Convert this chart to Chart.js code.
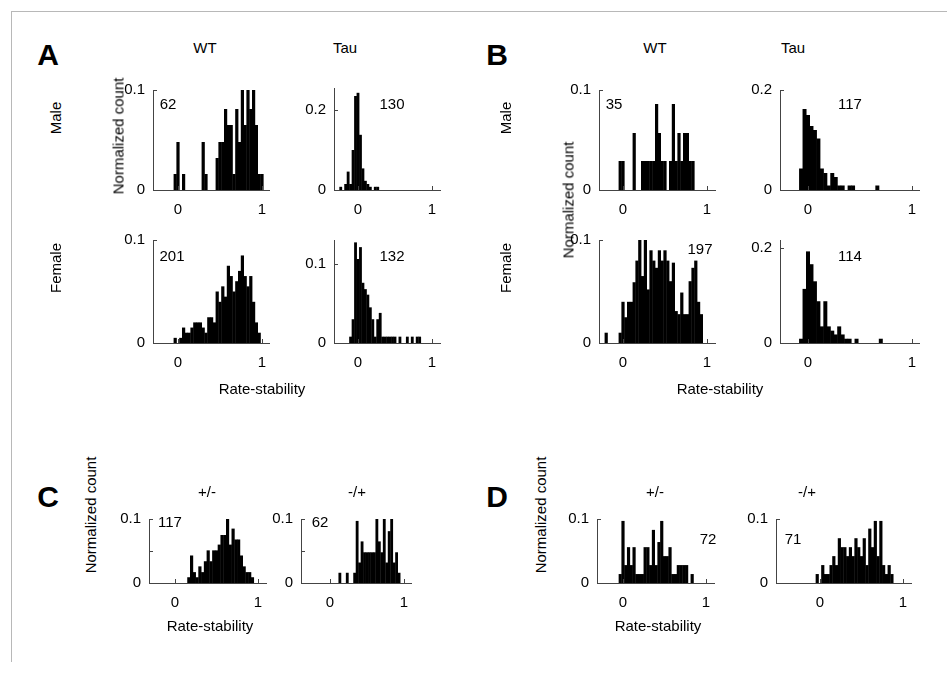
<!DOCTYPE html>
<html>
<head>
<meta charset="utf-8">
<script src="https://cdn.jsdelivr.net/npm/chart.js@4.4.1/dist/chart.umd.min.js"></script>
<style>
body { margin: 0; background: #fff; font-family: "Liberation Sans", Arial, sans-serif; }
#fig { position: relative; width: 947px; height: 673px; overflow: hidden; }
#frame { position: absolute; left: 11px; top: 11px; width: 960px; height: 650px;
         border-left: 1px solid #b8b8b8; border-top: 1px solid #b8b8b8; }
.t { position: absolute; font-size: 15px; color: #000; white-space: nowrap; transform: translate(-50%, -50%); }
.letter { font-size: 30px; font-weight: bold; }
.rot { transform: translate(-50%, -50%) rotate(-90deg); }
canvas { position: absolute; }
</style>
</head>
<body>
<div id="fig"><div id="frame"></div></div>
<script>
// bins of width 1/30 on the rate-stability axis, index k -> value k/30
const binIndex = [-8, -7, -6, -5, -4, -3, -2, -1, 0, 1, 2, 3, 4, 5, 6, 7, 8, 9, 10, 11, 12,
  13, 14, 15, 16, 17, 18, 19, 20, 21, 22, 23, 24, 25, 26, 27, 28, 29, 30, 31, 32];
const xTickBins = [0, 30];
const xTickLabels = ['0', '1'];

// normalized counts, one value per bin (k = -8 .. 32)
const aWtMale = [0, 0, 0, 0, 0, 0, 0, 0.016, 0.048, 0, 0.016, 0, 0, 0, 0, 0, 0, 0.048, 0.016, 0, 0, 0,
  0.032, 0.048, 0.048, 0.081, 0.065, 0.065, 0.016, 0.081, 0.048, 0.113, 0.065, 0.113, 0.081, 0.113, 0.065, 0.016, 0.016, 0, 0];
const aTauMale = [0, 0.008, 0, 0.015, 0.046, 0.015, 0.1, 0.235, 0.243, 0.138, 0.054, 0.023, 0.015, 0.008, 0, 0.008, 0.008,
  0, 0, 0, 0, 0, 0, 0, 0, 0, 0, 0, 0, 0, 0, 0, 0, 0, 0, 0, 0, 0, 0, 0, 0];
const aWtFemale = [0, 0, 0, 0, 0, 0, 0, 0.005, 0, 0.005, 0.015, 0.01, 0.01, 0.015, 0.02, 0.02, 0.02, 0.015, 0.01, 0.025, 0.025,
  0.02, 0.05, 0.04, 0.055, 0.045, 0.075, 0.065, 0.05, 0.06, 0.07, 0.085, 0.065, 0.055, 0.065, 0.04, 0.02, 0.01, 0, 0, 0];
const aTauFemale = [0, 0, 0, 0, 0, 0.008, 0.03, 0.127, 0.106, 0.121, 0.076, 0.068, 0.061, 0.045, 0.03, 0.008, 0.03, 0.038, 0.008, 0.008, 0.008,
  0.008, 0.008, 0.008, 0, 0.008, 0, 0, 0.008, 0, 0.008, 0, 0.008, 0.008, 0, 0, 0, 0, 0, 0, 0];
const bWtMale = [0, 0, 0, 0, 0, 0, 0, 0.029, 0.029, 0, 0, 0, 0.057, 0, 0, 0.029, 0.029, 0.029, 0.029, 0.029, 0.086,
  0.057, 0.029, 0.029, 0, 0.029, 0.086, 0.029, 0.057, 0.029, 0.057, 0.057, 0.029, 0.029, 0, 0, 0, 0, 0, 0, 0];
const bTauMale = [0, 0, 0, 0, 0, 0, 0.043, 0.162, 0.15, 0.128, 0.12, 0.103, 0.043, 0.034, 0.009, 0.034, 0.026, 0.009, 0.009, 0, 0.009,
  0.009, 0, 0, 0, 0, 0, 0, 0.009, 0, 0, 0, 0, 0, 0, 0, 0, 0, 0, 0, 0];
const bWtFemale = [0, 0, 0.01, 0, 0, 0, 0, 0.01, 0.04, 0.025, 0.04, 0.04, 0.059, 0.08, 0.1, 0.065, 0.1, 0.052, 0.09, 0.08, 0.073,
  0.09, 0.08, 0.09, 0.08, 0.06, 0.078, 0.031, 0.028, 0.049, 0.028, 0.028, 0.06, 0.073, 0.08, 0.04, 0.028, 0, 0, 0, 0];
const bTauFemale = [0, 0, 0, 0, 0, 0, 0.009, 0.114, 0.193, 0.166, 0.13, 0.088, 0.035, 0.088, 0.035, 0.026, 0.018, 0.035, 0.018, 0.009, 0.009,
  0, 0.009, 0, 0, 0, 0, 0, 0, 0.009, 0, 0, 0, 0, 0, 0, 0, 0, 0, 0, 0];
const cPlusMinus = [0, 0, 0, 0, 0, 0, 0, 0, 0, 0, 0, 0, 0, 0.009, 0.043, 0.017, 0.009, 0.026, 0.017, 0.034, 0.051,
  0.034, 0.051, 0.051, 0.06, 0.075, 0.075, 0.1, 0.06, 0.085, 0.068, 0.068, 0.043, 0.026, 0.017, 0.017, 0.009, 0, 0, 0, 0];
const cMinusPlus = [0, 0, 0, 0, 0, 0, 0, 0, 0, 0, 0, 0, 0.016, 0, 0, 0.016, 0, 0, 0.016, 0.097, 0.032,
  0.065, 0.048, 0.048, 0.048, 0.048, 0.048, 0.1, 0.065, 0.048, 0.1, 0.032, 0.081, 0.1, 0.032, 0.048, 0.016, 0, 0, 0, 0];
const dPlusMinus = [0, 0, 0, 0, 0, 0, 0, 0.014, 0.097, 0.028, 0.056, 0.028, 0.056, 0.014, 0.014, 0.014, 0.056, 0.056, 0.028, 0.083, 0.028,
  0.064, 0.097, 0.042, 0.042, 0.056, 0.014, 0.014, 0.028, 0.028, 0.028, 0.028, 0, 0.014, 0, 0, 0, 0, 0, 0, 0];
const dMinusPlus = [0, 0, 0, 0, 0, 0, 0, 0.014, 0, 0.028, 0.014, 0.014, 0.028, 0.042, 0.028, 0.07, 0.056, 0.056, 0.042, 0.056, 0.042,
  0.07, 0.056, 0.042, 0.07, 0.028, 0.085, 0.056, 0.097, 0.042, 0.097, 0.028, 0.014, 0.028, 0.014, 0, 0, 0, 0, 0, 0];

// y tick values and their labels
const yTicks01 = [0, 0.1];
const yTicks01Labels = ['0', '0.1'];
const yTicks02 = [0, 0.2];
const yTicks02Labels = ['0', '0.2'];
const yTicksHalf = [0, 0.05, 0.1];
const yTicksHalfLabels = ['0', '', '0.1'];

const FONT = { family: '"Liberation Sans", Arial, sans-serif', size: 15 };
const PAD_L = 46, PAD_R = 12, PAD_T = 12, PAD_B = 34;
const fig = document.getElementById('fig');

// matlab-like axes: left + bottom lines, ticks pointing inwards
const axesPlugin = {
  id: 'matlabAxes',
  afterDatasetsDraw(chart) {
    const { ctx, chartArea: a, scales: { x, y } } = chart;
    ctx.save();
    ctx.strokeStyle = '#444';
    ctx.lineWidth = 1;
    ctx.beginPath();
    ctx.moveTo(a.left + 0.5, a.top);
    ctx.lineTo(a.left + 0.5, a.bottom + 0.5);
    ctx.lineTo(a.right, a.bottom + 0.5);
    y.ticks.forEach(t => {
      const py = Math.round(y.getPixelForValue(t.value)) + 0.5;
      ctx.moveTo(a.left, py);
      ctx.lineTo(a.left + 4, py);
    });
    x.ticks.forEach(t => {
      const px = Math.round(x.getPixelForValue(t.value)) + 0.5;
      ctx.moveTo(px, a.bottom);
      ctx.lineTo(px, a.bottom - 4);
    });
    ctx.stroke();
    ctx.restore();
  }
};

// box: axis left/right/top/bottom in page pixels, x0/x1 = page x of values 0 and 1
function histogram(box, values, yMax, ticks, tickLabels) {
  const w = box.right - box.left, h = box.bottom - box.top;
  const cv = document.createElement('canvas');
  fig.appendChild(cv);
  const unit = (box.x1 - box.x0) / 30;
  const chart = new Chart(cv, {
    type: 'bar',
    data: {
      datasets: [{
        data: binIndex.map((k, i) => ({ x: k, y: values[i] })),
        backgroundColor: '#000',
        borderWidth: 0,
        barPercentage: 1.15,
        categoryPercentage: 1
      }]
    },
    options: {
      responsive: false,
      maintainAspectRatio: false,
      animation: false,
      layout: { padding: { top: PAD_T, right: PAD_R, left: 0, bottom: 0 } },
      plugins: { legend: { display: false }, tooltip: { enabled: false } },
      scales: {
        x: {
          type: 'linear', offset: false,
          min: (box.left - box.x0) / unit, max: (box.right - box.x0) / unit,
          grid: { display: false, drawTicks: false },
          border: { display: false },
          afterBuildTicks: s => { s.ticks = xTickBins.map(v => ({ value: v })); },
          ticks: {
            color: '#000', font: FONT, padding: 11, maxRotation: 0, autoSkip: false,
            callback: v => xTickLabels[xTickBins.indexOf(v)]
          },
          afterFit: s => { s.height = PAD_B; }
        },
        y: {
          min: 0, max: yMax,
          grid: { display: false, drawTicks: false },
          border: { display: false },
          afterBuildTicks: s => { s.ticks = ticks.map(v => ({ value: v })); },
          ticks: {
            color: '#000', font: FONT, padding: 8, autoSkip: false,
            callback: v => tickLabels[ticks.indexOf(v)]
          },
          afterFit: s => { s.width = PAD_L; }
        }
      }
    },
    plugins: [axesPlugin]
  });
  // size the canvas so the plot area is exactly w x h, then place it
  chart.resize(PAD_L + w + PAD_R, PAD_T + h + PAD_B);
  let a = chart.chartArea;
  chart.resize(PAD_L + w + PAD_R + (w - (a.right - a.left)), PAD_T + h + PAD_B + (h - (a.bottom - a.top)));
  a = chart.chartArea;
  cv.style.left = (box.left - a.left) + 'px';
  cv.style.top = (box.top - a.top) + 'px';
}

function label(text, x, y, cls) {
  const d = document.createElement('div');
  d.className = 't' + (cls ? ' ' + cls : '');
  d.textContent = text;
  d.style.left = x + 'px';
  d.style.top = y + 'px';
  fig.appendChild(d);
}

// panel A
histogram({ left: 153, right: 270, x0: 178, x1: 262, top: 90, bottom: 190 }, aWtMale, 0.1, yTicks01, yTicks01Labels);
histogram({ left: 334, right: 441, x0: 358, x1: 432, top: 88, bottom: 190 }, aTauMale, 0.255, yTicks02, yTicks02Labels);
histogram({ left: 153, right: 270, x0: 178, x1: 262, top: 240, bottom: 343 }, aWtFemale, 0.1, yTicks01, yTicks01Labels);
histogram({ left: 334, right: 441, x0: 358, x1: 432, top: 240, bottom: 343 }, aTauFemale, 0.13, yTicks01, yTicks01Labels);
// panel B
histogram({ left: 599, right: 716, x0: 623, x1: 707, top: 90, bottom: 190 }, bWtMale, 0.1, yTicks01, yTicks01Labels);
histogram({ left: 780, right: 920, x0: 808, x1: 912, top: 90, bottom: 190 }, bTauMale, 0.2, yTicks02, yTicks02Labels);
histogram({ left: 599, right: 716, x0: 623, x1: 707, top: 240, bottom: 343 }, bWtFemale, 0.1, yTicks01, yTicks01Labels);
histogram({ left: 780, right: 920, x0: 808, x1: 912, top: 240, bottom: 343 }, bTauFemale, 0.217, yTicks02, yTicks02Labels);
// panel C
histogram({ left: 149, right: 267, x0: 175, x1: 258, top: 519, bottom: 583 }, cPlusMinus, 0.1, yTicksHalf, yTicksHalfLabels);
histogram({ left: 301, right: 412, x0: 330, x1: 404, top: 519, bottom: 583 }, cMinusPlus, 0.1, yTicksHalf, yTicksHalfLabels);
// panel D
histogram({ left: 597, right: 715, x0: 623, x1: 706, top: 519, bottom: 583 }, dPlusMinus, 0.1, yTicks01, yTicks01Labels);
histogram({ left: 776, right: 912, x0: 820, x1: 903, top: 519, bottom: 583 }, dMinusPlus, 0.1, yTicks01, yTicks01Labels);

// cell counts
label('62', 168, 103);
label('130', 392, 103);
label('201', 172, 255);
label('132', 392, 255);
label('35', 614, 103);
label('117', 850, 103);
label('197', 700, 248);
label('114', 850, 255);
label('117', 170, 521);
label('62', 320, 521);
label('72', 708, 538);
label('71', 793, 538);

label('A', 48, 55, 'letter');
label('B', 497, 55, 'letter');
label('C', 48, 497, 'letter');
label('D', 497, 497, 'letter');
label('WT', 205, 47);
label('Tau', 345, 47);
label('WT', 655, 47);
label('Tau', 793, 47);
label('+/-', 207, 491);
label('-/+', 357, 491);
label('+/-', 655, 491);
label('-/+', 807, 491);
label('Male', 55, 118, 'rot');
label('Female', 55, 268, 'rot');
label('Male', 505, 118, 'rot');
label('Female', 505, 268, 'rot');
label('Normalized count', 118, 136, 'rot');
label('Normalized count', 568, 200, 'rot');
label('Normalized count', 90, 515, 'rot');
label('Normalized count', 540, 515, 'rot');
label('Rate-stability', 262, 388);
label('Rate-stability', 720, 388);
label('Rate-stability', 210, 625);
label('Rate-stability', 658, 625);
</script>
</body>
</html>
